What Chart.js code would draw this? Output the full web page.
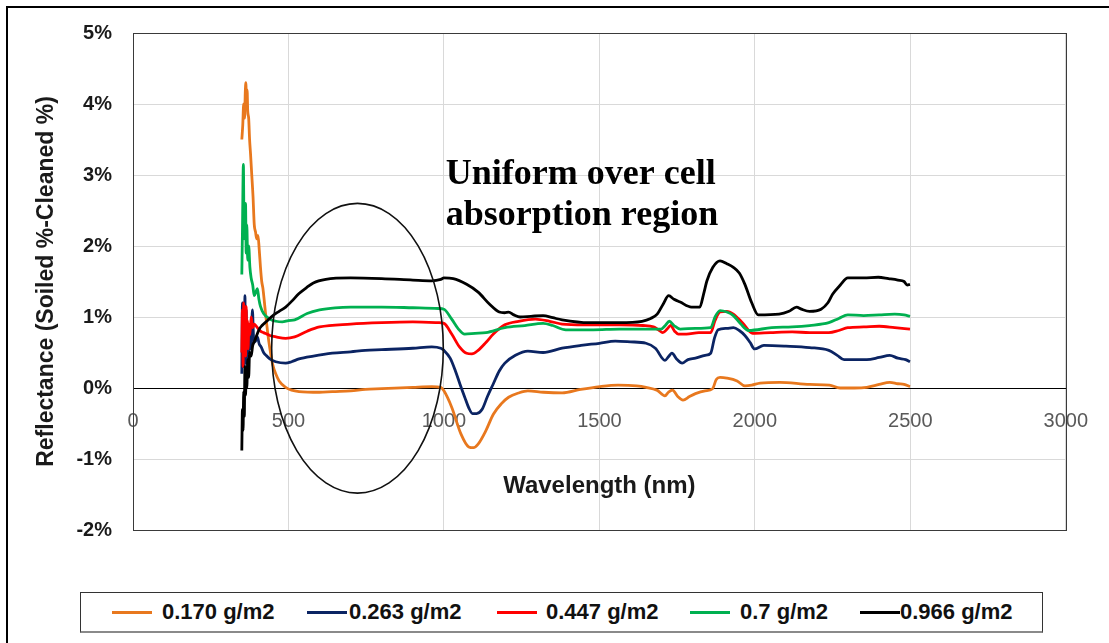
<!DOCTYPE html>
<html>
<head>
<meta charset="utf-8">
<script src="https://cdn.jsdelivr.net/npm/chart.js@4.4.0/dist/chart.umd.min.js"></script>
<style>
  body{margin:0;background:#fff;width:1109px;height:643px;overflow:hidden;position:relative;font-family:"Liberation Sans",Arial,sans-serif}
  #frame{position:absolute;left:6px;top:6px;width:1120px;height:660px;border:2px solid #000;box-sizing:border-box}
  #c{position:absolute;left:0;top:0}
  #legend{position:absolute;left:80px;top:592px;width:963px;height:41px;border:1px solid #333;border-bottom:2px solid #8a8a8a;box-sizing:border-box;background:#fff}
  .ln{position:absolute;top:18px;height:3px;width:40px}
  .lt{position:absolute;top:6px;font:bold 22px "Liberation Sans",Arial,sans-serif;color:#111;white-space:nowrap;line-height:26px}
</style>
</head>
<body>
<div id="frame"></div>
<canvas id="c" width="1109" height="643"></canvas>
<div id="legend"></div>
<script>
// ---- data (wavelength in nm, reflectance difference in %) ----
const seriesLabels = ['0.170 g/m2', '0.263 g/m2', '0.447 g/m2', '0.7 g/m2', '0.966 g/m2'];
const seriesColors = ['#E8781E', '#0B2463', '#FF0000', '#00B050', '#000000'];
const xTicks = [0, 500, 1000, 1500, 2000, 2500, 3000];
const yTicks = [-2, -1, 0, 1, 2, 3, 4, 5];

const wl170 = [350,353,356,359,361,363,365,367,369,372,375,378,382,386,390,394,398,402,406,410,414,418,424,430,437,443,450,459,470,491,510,534,600,641,700,747,800,900,961,990,1000,1025,1055,1080,1095,1110,1135,1159,1185,1208,1240,1270,1320,1380,1440,1502,1560,1620,1650,1685,1711,1722,1735,1752,1769,1790,1809,1840,1864,1876,1888,1910,1943,1968,1990,2017,2080,2176,2240,2274,2320,2360,2400,2434,2460,2480,2499];
const r170  = [3.5,3.7,4.0,3.8,4.15,4.3,4.0,4.2,3.9,3.8,3.5,3.3,3.0,2.7,2.3,2.2,2.1,2.15,1.95,1.7,1.5,1.4,1.15,0.9,0.65,0.48,0.32,0.2,0.1,0.01,-0.03,-0.05,-0.06,-0.05,-0.04,-0.02,-0.01,0.01,0.02,0.01,-0.04,-0.27,-0.65,-0.83,-0.84,-0.79,-0.6,-0.37,-0.22,-0.13,-0.07,-0.04,-0.06,-0.07,-0.02,0.02,0.04,0.03,0.01,-0.03,-0.11,-0.06,-0.03,-0.12,-0.17,-0.12,-0.08,-0.04,-0.01,0.12,0.15,0.14,0.10,0.03,0.04,0.07,0.08,0.05,0.04,0.0,0.0,0.01,0.05,0.08,0.06,0.05,0.02];

const wl263 = [350,352,354,356,358,360,362,364,366,369,372,376,380,384,388,393,400,406,412,420,428,440,459,491,510,534,580,641,700,747,800,900,961,990,1000,1020,1037,1052,1067,1080,1092,1105,1123,1140,1159,1178,1196,1230,1270,1319,1380,1441,1500,1551,1600,1650,1680,1711,1722,1733,1750,1766,1785,1809,1840,1858,1870,1882,1910,1931,1950,1968,1985,1999,2029,2100,2176,2238,2265,2287,2320,2360,2400,2434,2460,2485,2499];
const r263  = [0.2,1.2,0.4,0.9,0.3,1.3,0.5,1.1,0.35,0.8,0.5,0.85,0.55,1.1,0.7,0.65,0.72,0.62,0.58,0.5,0.46,0.41,0.37,0.35,0.37,0.41,0.45,0.49,0.51,0.53,0.54,0.56,0.58,0.56,0.53,0.42,0.24,0.05,-0.13,-0.28,-0.36,-0.36,-0.30,-0.12,0.06,0.24,0.35,0.46,0.52,0.50,0.56,0.60,0.63,0.66,0.65,0.63,0.56,0.39,0.44,0.49,0.40,0.35,0.40,0.42,0.46,0.49,0.70,0.82,0.84,0.85,0.81,0.74,0.64,0.55,0.60,0.59,0.57,0.53,0.46,0.40,0.40,0.40,0.43,0.46,0.42,0.40,0.37];

const wl447 = [350,352,354,356,358,360,362,364,366,368,370,373,376,380,385,390,400,410,420,440,460,491,520,560,600,700,800,900,982,1000,1025,1050,1073,1090,1110,1135,1159,1196,1240,1294,1340,1380,1450,1564,1640,1674,1690,1704,1718,1729,1742,1754,1780,1820,1858,1872,1888,1910,1931,1960,1993,2050,2120,2176,2238,2270,2299,2350,2400,2450,2499];
const r447  = [0.5,1.1,0.3,1.2,0.6,1.0,0.45,1.15,0.7,0.95,0.55,0.9,0.75,1.0,0.85,0.9,0.85,0.8,0.78,0.74,0.72,0.7,0.72,0.8,0.86,0.9,0.92,0.93,0.92,0.91,0.76,0.58,0.49,0.48,0.53,0.64,0.76,0.89,0.94,0.97,0.94,0.90,0.89,0.89,0.88,0.86,0.82,0.78,0.83,0.88,0.80,0.76,0.76,0.78,0.78,0.95,1.07,1.08,1.04,0.92,0.77,0.78,0.79,0.78,0.78,0.81,0.85,0.86,0.87,0.85,0.83];

const wl700 = [350,352,355,357,360,362,364,366,369,372,376,380,385,390,395,400,405,410,420,440,460,480,500,520,560,600,650,700,800,900,982,1000,1025,1045,1067,1100,1135,1196,1260,1319,1350,1392,1480,1564,1698,1712,1725,1740,1760,1809,1858,1872,1888,1910,1931,1955,1980,2054,2120,2176,2238,2270,2299,2350,2400,2450,2480,2499];
const r700  = [1.6,2.2,3.15,2.3,2.1,2.6,1.9,2.3,1.8,2.0,1.7,1.55,1.45,1.3,1.35,1.4,1.25,1.15,1.05,0.97,0.94,0.93,0.95,0.96,1.05,1.1,1.13,1.14,1.14,1.13,1.12,1.11,0.97,0.84,0.76,0.77,0.78,0.85,0.88,0.91,0.88,0.82,0.82,0.83,0.83,0.88,0.94,0.88,0.83,0.84,0.85,1.0,1.09,1.07,1.02,0.90,0.81,0.85,0.86,0.88,0.92,0.98,1.03,1.02,1.03,1.04,1.03,1.01];

const wl966 = [350,352,354,356,358,360,362,364,366,369,372,375,380,385,390,396,405,415,430,450,470,491,510,534,560,580,620,700,800,900,961,990,1000,1030,1073,1110,1147,1178,1195,1208,1225,1245,1280,1319,1350,1380,1466,1564,1637,1665,1686,1705,1723,1740,1760,1796,1823,1835,1846,1865,1888,1910,1931,1950,1968,1990,2011,2078,2110,2134,2150,2176,2213,2235,2250,2275,2299,2350,2397,2430,2460,2480,2490,2499];
const r966  = [-0.88,-0.3,-0.6,-0.05,-0.4,0.3,-0.1,0.2,0.0,0.4,0.15,0.5,0.45,0.6,0.65,0.72,0.82,0.88,0.94,1.02,1.08,1.14,1.22,1.33,1.42,1.48,1.53,1.55,1.54,1.52,1.51,1.53,1.55,1.54,1.46,1.35,1.18,1.07,1.06,1.07,1.03,1.0,1.01,1.02,0.99,0.96,0.92,0.92,0.94,0.98,1.04,1.18,1.30,1.25,1.21,1.14,1.14,1.32,1.51,1.70,1.79,1.75,1.70,1.62,1.46,1.20,1.03,1.04,1.08,1.14,1.11,1.08,1.11,1.20,1.32,1.45,1.55,1.55,1.56,1.54,1.52,1.50,1.45,1.46];

const seriesX = [wl170, wl263, wl447, wl700, wl966];
const seriesY = [r170, r263, r447, r700, r966];

// ---- annotation (data coordinates) ----
const noteLines = ['Uniform over cell', 'absorption region'];
const noteAnchor = {x: 1006, y: [2.88, 2.29]};
const ellipseSpec = {cx: 722, cy: 0.56, rx: 276, ry: 2.04};

// ---- layout only ----
const legendLineLeft = [31, 226, 416, 609, 779];
const legendTextLeft = [81, 268, 465, 659, 819];

const datasets = seriesLabels.map((lab, i) => ({
  label: lab,
  data: seriesX[i].map((x, j) => ({x: x, y: seriesY[i][j]})),
  borderColor: seriesColors[i],
  backgroundColor: seriesColors[i],
  borderWidth: 2.8,
  pointRadius: 0,
  fill: false,
  cubicInterpolationMode: 'monotone',
  order: seriesLabels.length - i
}));

const decor = {
  id: 'decor',
  afterDatasetsDraw(chart) {
    const {ctx, chartArea: a, scales: {x, y}} = chart;
    ctx.save();
    ctx.strokeStyle = '#3a3a3a';
    ctx.lineWidth = 1;
    ctx.strokeRect(Math.round(a.left) + 0.5, Math.round(a.top) + 0.5, Math.round(a.right - a.left), Math.round(a.bottom - a.top));
    const cx = x.getPixelForValue(ellipseSpec.cx);
    const cy = y.getPixelForValue(ellipseSpec.cy);
    const rx = x.getPixelForValue(ellipseSpec.cx + ellipseSpec.rx) - cx;
    const ry = cy - y.getPixelForValue(ellipseSpec.cy + ellipseSpec.ry);
    ctx.beginPath();
    ctx.ellipse(cx, cy, rx, ry, 0, 0, Math.PI * 2);
    ctx.strokeStyle = '#111';
    ctx.lineWidth = 1.6;
    ctx.stroke();
    ctx.fillStyle = '#000';
    ctx.font = 'bold 36px "Liberation Serif","Times New Roman",serif';
    ctx.textBaseline = 'alphabetic';
    ctx.textAlign = 'left';
    noteLines.forEach((t, i) => ctx.fillText(t, x.getPixelForValue(noteAnchor.x), y.getPixelForValue(noteAnchor.y[i])));
    ctx.restore();
  }
};

new Chart(document.getElementById('c'), {
  type: 'line',
  data: {datasets},
  options: {
    responsive: false,
    animation: false,
    layout: {padding: {left: 0, top: 32, right: 31, bottom: 113}},
    plugins: {legend: {display: false}, tooltip: {enabled: false}},
    scales: {
      x: {
        type: 'linear', min: xTicks[0], max: xTicks[xTicks.length - 1],
        position: {y: 0},
        afterBuildTicks: s => { s.ticks = xTicks.map(v => ({value: v})); },
        ticks: {color: '#595959', font: {size: 20, family: '"Liberation Sans", Arial, sans-serif'}, padding: 21, maxRotation: 0, autoSkip: false, callback: v => String(v)},
        grid: {color: '#d9d9d9', drawTicks: false, lineWidth: 1},
        border: {color: '#000', width: 1},
        title: {display: true, text: 'Wavelength (nm)', color: '#1a1a1a',
          font: {size: 24, weight: 'bold', family: '"Liberation Sans", Arial, sans-serif'}, padding: {top: 18, bottom: 0}}
      },
      y: {
        min: yTicks[0], max: yTicks[yTicks.length - 1],
        afterBuildTicks: s => { s.ticks = yTicks.map(v => ({value: v})); },
        ticks: {color: '#1a1a1a', font: {size: 20, weight: 'bold', family: '"Liberation Sans", Arial, sans-serif'}, padding: 21, callback: v => v + '%'},
        grid: {color: '#d9d9d9', drawTicks: false, lineWidth: 1},
        border: {display: false},
        title: {display: true, text: 'Reflectance (Soiled %-Cleaned %)', color: '#1a1a1a',
          font: {size: 23, weight: 'bold', family: '"Liberation Sans", Arial, sans-serif'}, padding: {top: 33, bottom: 0}},
        afterFit: s => { s.width = 133; }
      }
    }
  },
  plugins: [decor]
});

const lg = document.getElementById('legend');
seriesLabels.forEach((lab, i) => {
  const l = document.createElement('div');
  l.className = 'ln'; l.style.left = legendLineLeft[i] + 'px'; l.style.background = seriesColors[i];
  const t = document.createElement('div');
  t.className = 'lt'; t.style.left = legendTextLeft[i] + 'px'; t.textContent = lab;
  lg.appendChild(l); lg.appendChild(t);
});
</script>
</body>
</html>
